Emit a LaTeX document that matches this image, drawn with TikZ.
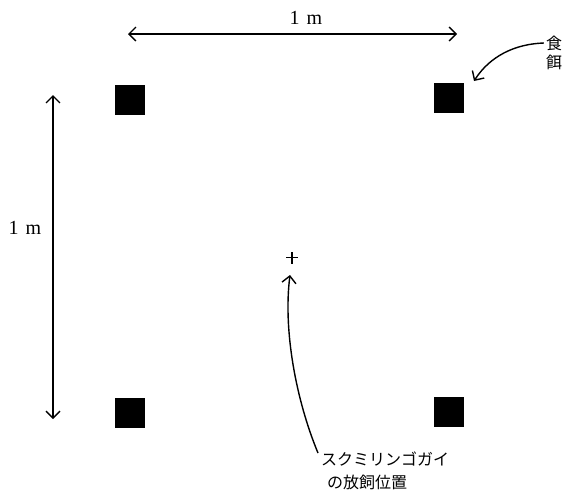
\documentclass[tikz,border=0pt]{standalone}
\usepackage{fontspec}
\setmainfont{Liberation Serif}
\newfontfamily\jp{Noto Sans CJK JP}
\usetikzlibrary{arrows.meta}
\begin{document}
\begin{tikzpicture}[x=1pt,y=-1pt,
  feed/.style={fill=black,minimum width=30pt,minimum height=30pt,inner sep=0pt},
  dim/.style={line width=1.4pt,{Straight Barb[length=7pt,width=14pt]}-{Straight Barb[length=7pt,width=14pt]}},
  pointer/.style={line width=1.4pt,-{Straight Barb[length=7pt,width=14pt]}},
  lbl/.style={font=\fontsize{20}{22}\selectfont,inner sep=0pt},
  jlbl/.style={font=\jp\fontsize{16}{20}\selectfont,inner sep=0pt},
  cross/.style={line width=1.1pt}]
\useasboundingbox (0,0) rectangle (571,490);
\node[feed] (f1) at (130,100) {};
\node[feed] (f2) at (449,98) {};
\node[feed] (f3) at (130,413) {};
\node[feed] (f4) at (449,412) {};
\coordinate (hl) at (128,34);
\coordinate (hr) at (457,34);
\draw[dim] (hl) -- (hr);
\node[lbl] (h) at (306,18) {1\hspace{7pt}m};
\coordinate (vt) at (53,95);
\coordinate (vb) at (53,419);
\draw[dim] (vt) -- (vb);
\node[lbl] (v) at (25,228) {1\hspace{7pt}m};
\coordinate (plus) at (292,257.5);
\draw[cross] ([xshift=-6pt]plus) -- ([xshift=6pt]plus);
\draw[cross] ([yshift=-6pt]plus) -- ([yshift=6pt]plus);
\node[jlbl,anchor=west] (t1) at (321,459) {スクミリンゴガイ};
\node[jlbl] (t2) at (367,482) {の放飼位置};
\node[jlbl] (s1) at (554,43) {食};
\node[jlbl] (s2) at (554,62) {餌};
\coordinate (ptip) at (290,275);
\draw[pointer] (t1.west) ++(-3,-6) .. controls (296,400) and (283,330) .. (ptip);
\coordinate (ftip) at (474,81);
\draw[pointer] (s1.west) ++(-2,0) .. controls (515,44) and (490,56) .. (ftip);
\end{tikzpicture}
\end{document}
